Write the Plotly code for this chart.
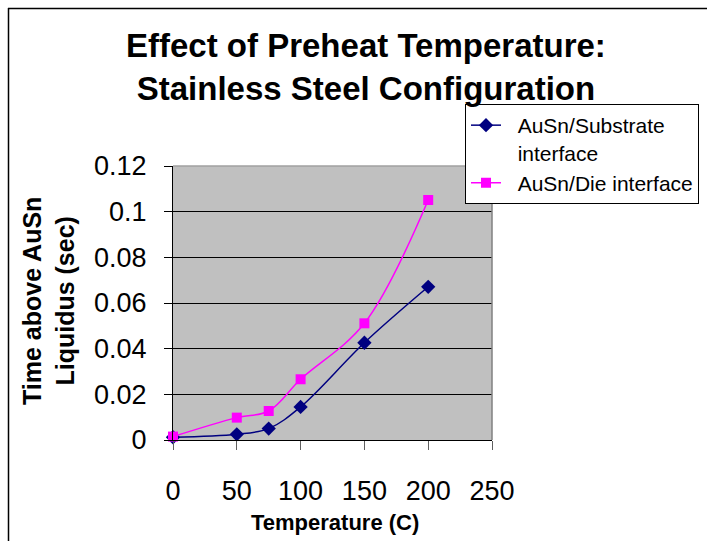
import plotly.graph_objects as go

# ---- data ----
temperature = [0, 50, 75, 100, 150, 200]
substrate_time = [0.0012, 0.0025, 0.005, 0.0145, 0.0426, 0.0671]
die_time = [0.0015, 0.0098, 0.0127, 0.0266, 0.0511, 0.1051]
series_names = ["\u00a0\u00a0AuSn/Substrate<br>\u00a0\u00a0interface", "\u00a0\u00a0AuSn/Die interface"]
title_text = "Effect of Preheat Temperature:<br>Stainless Steel Configuration"
x_title = "Temperature (C)"
y_title = "Time above AuSn<br>Liquidus (sec)"

FONT = "Liberation Sans, Arial, sans-serif"
W, H = 707, 541
L, R, T, B = 173, 492, 166, 440  # plot area in pixels


def px(xp):
    return (xp - L) / (R - L)


def py(yp):
    return (B - yp) / (B - T)


fig = go.Figure()
fig.add_trace(go.Scatter(
    x=temperature, y=substrate_time, name=series_names[0],
    mode="lines+markers", line=dict(color="#000080", width=1.5, shape="spline", smoothing=1),
    marker=dict(symbol="diamond", size=11, color="#000080"), cliponaxis=False,
))
fig.add_trace(go.Scatter(
    x=temperature, y=die_time, name=series_names[1],
    mode="lines+markers", line=dict(color="#FF00FF", width=1.5, shape="spline", smoothing=1),
    marker=dict(symbol="square", size=10, color="#FF00FF"), cliponaxis=False,
))

fig.update_layout(
    width=W, height=H,
    margin=dict(l=L, r=W - R, t=T, b=H - B, autoexpand=False),
    paper_bgcolor="white", plot_bgcolor="#C0C0C0",
    font=dict(family=FONT, color="black"),
    showlegend=True,
    legend=dict(
        x=px(465), y=py(104), xanchor="left", yanchor="top",
        bgcolor="white", bordercolor="black", borderwidth=1,
        font=dict(size=21, family=FONT), valign="top",
        tracegroupgap=0, itemwidth=30,
    ),
)

fig.update_xaxes(
    range=[0, 250], tickvals=[0, 50, 100, 150, 200, 250],
    showgrid=False, zeroline=False,
    showline=True, linecolor="black", linewidth=1,
    ticks="outside", ticklen=9, tickcolor="#606060", tickwidth=1,
    tickfont=dict(size=27, family=FONT), ticklabelstandoff=18,
)
fig.update_yaxes(
    range=[0, 0.12], tickvals=[0, 0.02, 0.04, 0.06, 0.08, 0.1, 0.12],
    ticktext=["0", "0.02", "0.04", "0.06", "0.08", "0.1", "0.12"],
    showgrid=True, gridcolor="black", gridwidth=1, zeroline=False,
    showline=True, linecolor="black", linewidth=1,
    ticks="outside", ticklen=8, tickcolor="black", tickwidth=1,
    tickfont=dict(size=27, family=FONT), ticklabelstandoff=12,
)

shapes = [
    # plot area border (top/right gray)
    dict(type="line", xref="paper", yref="paper", x0=0, x1=1, y0=1, y1=1,
         line=dict(color="#A0A0A0", width=1.5)),
    dict(type="line", xref="paper", yref="paper", x0=1, x1=1, y0=0, y1=1,
         line=dict(color="#808080", width=1.5)),
    # outer chart frame
    dict(type="line", xref="paper", yref="paper", x0=px(8.5), x1=px(8.5), y0=py(8), y1=py(560),
         line=dict(color="black", width=1.5)),
    dict(type="line", xref="paper", yref="paper", x0=px(8), x1=px(720), y0=py(8.5), y1=py(8.5),
         line=dict(color="black", width=1.5)),
]
fig.update_layout(shapes=shapes)

annotations = [
    dict(text="<b>" + title_text + "</b>", xref="paper", yref="paper",
         x=px(366), y=py(67), xanchor="center", yanchor="middle", showarrow=False,
         font=dict(size=33, family=FONT), align="center"),
    dict(text="<b>" + x_title + "</b>", xref="paper", yref="paper",
         x=px(335), y=py(522), xanchor="center", yanchor="middle", showarrow=False,
         font=dict(size=22, family=FONT)),
    dict(text="<b>" + y_title + "</b>", xref="paper", yref="paper",
         x=px(48), y=py(301), xanchor="center", yanchor="middle", showarrow=False,
         textangle=-90, font=dict(size=25, family=FONT), align="center"),
]
fig.update_layout(annotations=annotations)

fig.write_html("out.html")
